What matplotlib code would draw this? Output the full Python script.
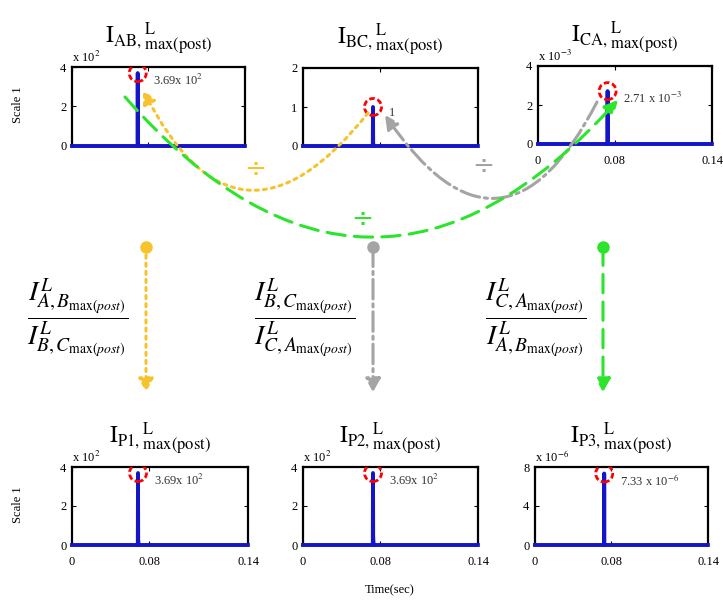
import numpy as np
import matplotlib.pyplot as plt

plt.rcParams['font.family'] = ['Liberation Serif', 'DejaVu Serif']
plt.rcParams['mathtext.fontset'] = 'stix'

# record length in samples; the time axis is labelled in seconds
n_samples = 1000
time_ticks = [0, 440, 1000]
time_labels = ['0', '0.08', '0.14']

names = ['AB', 'BC', 'CA', 'P1', 'P2', 'P3']
peak_values = [3.69e2, 1.0, 2.71e-3, 3.69e2, 3.69e2, 7.33e-6]
peak_samples = [380, 400, 400, 375, 400, 400]
tail_values = [
    [30, 12, 5],
    [0.08, 0.04, 0.02],
    [1.0e-4, 5.0e-5],
    [30, 12, 5],
    [45, 25, 12, 6],
    [2.0e-7, 1.0e-7],
]
exponents = [2, 0, -3, 2, 2, -6]
y_ticks = [[0, 2, 4], [0, 1, 2], [0, 2, 4], [0, 2, 4], [0, 2, 4], [0, 4, 8]]
peak_labels = ['3.69x 10$^{2}$', '1', '2.71 x 10$^{-3}$',
               '3.69x 10$^{2}$', '3.69x 10$^{2}$', '7.33 x 10$^{-6}$']
show_time = [False, False, True, True, True, True]

# axes boxes in figure pixels: left, top, right, bottom
boxes = [(72, 67, 245, 146), (303, 68, 478, 146), (538, 66, 712, 144),
         (72, 467, 248, 545), (303, 467, 478, 545), (535, 467, 708, 545)]

W, H = 723, 608
BLUE = '#1414C8'
YELLOW = '#F8C22C'
GRAY = '#A4A4A4'
GREEN = '#2CE42C'


def make_signal(i):
    sig = np.zeros(n_samples)
    sig[peak_samples[i]] = peak_values[i]
    tail = tail_values[i]
    sig[peak_samples[i] + 1:peak_samples[i] + 1 + len(tail)] = tail
    return sig


def draw_panel(fig, i):
    l, t, r, b = boxes[i]
    ax = fig.add_axes([l / W, 1 - b / H, (r - l) / W, (b - t) / H])
    scale = 10.0 ** exponents[i]
    sig = make_signal(i)
    ax.plot(np.arange(n_samples), sig / scale, color=BLUE, lw=2.8,
            clip_on=False, zorder=3)
    pk = peak_values[i] / scale
    ax.scatter([peak_samples[i]], [pk], s=150, facecolors='none',
               edgecolors='red', linewidths=2, linestyles=(0, (2, 1)), zorder=4)
    ax.text(peak_samples[i] + 90, pk, peak_labels[i], fontsize=9,
            va='top', ha='left', color='#333333')
    ax.set_xlim(0, n_samples)
    ax.set_ylim(0, y_ticks[i][-1])
    ax.set_yticks(y_ticks[i])
    ax.set_xticks(time_ticks)
    ax.set_xticklabels(time_labels)
    ax.tick_params(direction='in', length=3, top=True, right=True,
                   labelsize=9, labelbottom=show_time[i])
    ax.tick_params(axis='x', pad=8)
    ax.tick_params(axis='y', pad=4)
    for sp in ax.spines.values():
        sp.set_linewidth(1.6)
    if exponents[i] != 0:
        ax.text(0.0, 1.03, 'x 10$^{%d}$' % exponents[i], transform=ax.transAxes,
                fontsize=9, va='bottom', ha='left')
    sub = names[i] + ','
    ax.set_title(r'$\mathrm{I}_{\mathrm{%s}}{}^{\mathrm{L}}_{\mathrm{max(post)}}$' % sub,
                 fontsize=17, pad=17)
    return ax


def curved_arrow(ov, start, end, rad, color, ls):
    ov.annotate('', xy=end, xytext=start,
                arrowprops=dict(arrowstyle='-|>,head_length=0.8,head_width=0.4',
                                connectionstyle='arc3,rad=%s' % rad,
                                color=color, lw=2.2, linestyle=ls,
                                shrinkA=0, shrinkB=0))


def down_arrow(ov, x, y0, y1, color, ls):
    ov.annotate('', xy=(x, y1), xytext=(x, y0),
                arrowprops=dict(arrowstyle='-|>,head_length=0.8,head_width=0.45',
                                color=color, lw=2.2, linestyle=ls,
                                shrinkA=0, shrinkB=0))
    ov.plot([x], [y0], 'o', color=color, ms=8)


fig = plt.figure(figsize=(W / 100, H / 100), dpi=100)
for i in range(len(names)):
    draw_panel(fig, i)

# overlay in pixel units for the connecting arrows
ov = fig.add_axes([0, 0, 1, 1], zorder=10)
ov.set_xlim(0, W)
ov.set_ylim(H, 0)
ov.axis('off')
ov.patch.set_alpha(0)

curved_arrow(ov, (368, 113), (143, 90), -0.78, YELLOW, ':')
curved_arrow(ov, (597, 102), (385, 115), -0.84, GRAY, '-.')
curved_arrow(ov, (125, 97), (618, 100), 0.56, GREEN, (0, (6, 3)))

for (dx, dy), c in zip([(255, 170), (483, 167), (362, 220)], [YELLOW, GRAY, GREEN]):
    ov.text(dx, dy, '÷', color=c, fontsize=19, ha='center', va='center',
            family='DejaVu Sans')

down_arrow(ov, 146, 247, 392, YELLOW, ':')
down_arrow(ov, 373, 247, 392, GRAY, '-.')
down_arrow(ov, 603, 247, 392, GREEN, (0, (6, 3)))

fracs = [
    r'$\dfrac{I_{A,B_{\max(post)}}^{L}}{I_{B,C_{\max(post)}}^{L}}$',
    r'$\dfrac{I_{B,C_{\max(post)}}^{L}}{I_{C,A_{\max(post)}}^{L}}$',
    r'$\dfrac{I_{C,A_{\max(post)}}^{L}}{I_{A,B_{\max(post)}}^{L}}$',
]
for fx, txt in zip([78, 305, 536], fracs):
    ov.text(fx, 318, txt, fontsize=20, ha='center', va='center')

fig.text(18 / W, 1 - 105 / H, 'Scale 1', rotation=90, fontsize=9,
         ha='center', va='center')
fig.text(18 / W, 1 - 505 / H, 'Scale 1', rotation=90, fontsize=9,
         ha='center', va='center')
fig.text(390 / W, 1 - 590 / H, 'Time(sec)', fontsize=9, ha='center', va='center')

fig.savefig('out.png', dpi=100)
